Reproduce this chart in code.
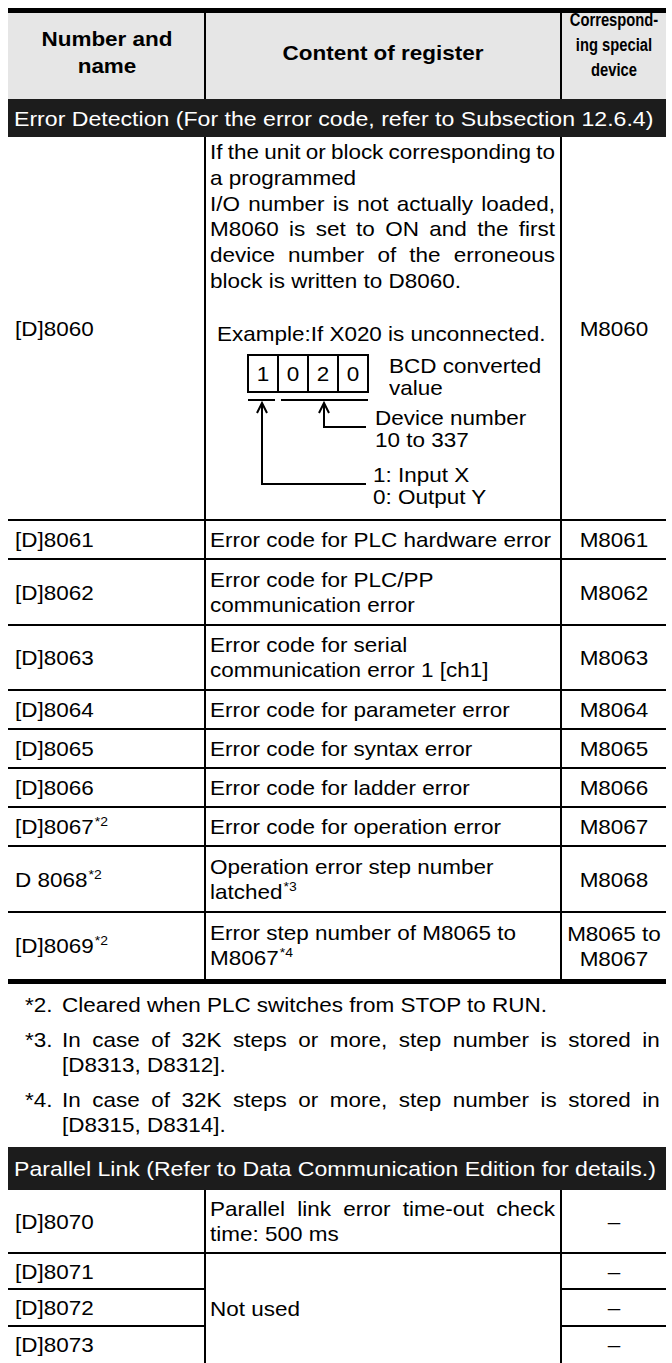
<!DOCTYPE html>
<html><head><meta charset="utf-8">
<script src="https://cdn.jsdelivr.net/npm/chart.js@4.4.1/dist/chart.umd.min.js"></script>
<style>
html,body{margin:0;padding:0;background:#fff;}
#page{position:relative;width:672px;height:1363px;overflow:hidden;font-family:"Liberation Sans",Arial,Helvetica,sans-serif;color:#000;}
.box{position:absolute;}
.t{position:absolute;white-space:nowrap;}
.j{position:absolute;display:flex;justify-content:space-between;white-space:nowrap;}
sup{font-size:13px;line-height:0;vertical-align:0;position:relative;top:-8px;margin-left:1px;}
svg{position:absolute;left:0;top:0;}
</style></head><body><div id="page"></div>
<script>
// ---------- data ----------
const headerTitles = [["Number and","name"],["Content of register"],["Correspond-","ing special","device"]];
const sectionTitles = ["Error Detection (For the error code, refer to Subsection 12.6.4)",
                       "Parallel Link (Refer to Data Communication Edition for details.)"];
const errorNames = ["[D]8060","[D]8061","[D]8062","[D]8063","[D]8064","[D]8065","[D]8066",
                    "[D]8067<sup>*2</sup>","D 8068<sup>*2</sup>","[D]8069<sup>*2</sup>"];
const errorContents = [
  ["If the unit or block corresponding to","a programmed","I/O number is not actually loaded,",
   "M8060 is set to ON and the first","device number of the erroneous","block is written to D8060."],
  ["Error code for PLC hardware error"],
  ["Error code for PLC/PP","communication error"],
  ["Error code for serial","communication error 1 [ch1]"],
  ["Error code for parameter error"],
  ["Error code for syntax error"],
  ["Error code for ladder error"],
  ["Error code for operation error"],
  ["Operation error step number","latched<sup>*3</sup>"],
  ["Error step number of M8065 to","M8067<sup>*4</sup>"]
];
const errorDevices = [["M8060"],["M8061"],["M8062"],["M8063"],["M8064"],["M8065"],["M8066"],["M8067"],["M8068"],["M8065 to","M8067"]];
const exampleText = "Example:If X020 is unconnected.";
const bcdDigits = ["1","0","2","0"];
const bcdLabel = ["BCD converted","value"];
const deviceLabel = ["Device number","10 to 337"];
const ioLabel = ["1: Input X","0: Output Y"];
const footnoteMarks = ["*2.","*3.","*4."];
const footnoteTexts = [
  ["Cleared when PLC switches from STOP to RUN."],
  ["In case of 32K steps or more, step number is stored in","[D8313, D8312]."],
  ["In case of 32K steps or more, step number is stored in","[D8315, D8314]."]
];
const parallelNames = ["[D]8070","[D]8071","[D]8072","[D]8073"];
const parallelContents = [["Parallel link error time-out check","time: 500 ms"],["Not used"]];
const parallelDevices = ["–","–","–","–"];

// ---------- layout / style ----------
const JUSTIFY = new Set(["If the unit or block corresponding to","I/O number is not actually loaded,",
  "M8060 is set to ON and the first","device number of the erroneous",
  "In case of 32K steps or more, step number is stored in","Parallel link error time-out check"]);
const P = document.getElementById('page');
const FS = 21, SX = 1.07, LW = 1.5;
const L = 8, R = 666, C1 = 205, C2 = 561;
const DEVX = (C2 + R) / 2;

function rect(x,y,w,h,c){const d=document.createElement('div');d.className='box';
  Object.assign(d.style,{left:x+'px',top:y+'px',width:w+'px',height:h+'px',background:c});P.appendChild(d);}
function txt(html,x,y,o={}){
  const fs=o.fs||FS, sx=o.sx||SX, lh=o.lh||Math.round(fs*1.2), n=o.n||1;
  const d=document.createElement('div');
  d.className=o.w?'j':'t';
  d.style.fontSize=fs+'px'; d.style.lineHeight=lh+'px'; d.style.top=(y-lh*n/2)+'px'; d.style.left=x+'px';
  if(o.bold) d.style.fontWeight='bold';
  if(o.color) d.style.color=o.color;
  if(o.w){
    d.style.width=(o.w/sx)+'px';
    html.split(' ').forEach(w=>{const s=document.createElement('span');s.innerHTML=w;d.appendChild(s);});
    d.style.transformOrigin='0 50%'; d.style.transform='scaleX('+sx+')';
  } else {
    d.innerHTML=html;
    if(o.center){d.style.textAlign='center';d.style.transformOrigin='50% 50%';d.style.transform='translateX(-50%) scaleX('+sx+')';}
    else {d.style.transformOrigin='0 50%';d.style.transform='scaleX('+sx+')';}
  }
  P.appendChild(d);
}
function lines(arr,x,yc,gap,o={}){
  arr.forEach((s,k)=>{const y=yc+(k-(arr.length-1)/2)*gap;
    if(o.w && JUSTIFY.has(s)) txt(s,x,y,Object.assign({},o)); else txt(s,x,y,Object.assign({},o,{w:0}));});
}
function block(arr,x,yc,gap,o={}){ txt(arr.join('<br>'),x,yc,Object.assign({},o,{lh:gap,n:arr.length})); }

// header
rect(L,8,R-L,4.7,'#000');
rect(L,12.7,R-L,86.3,'#e6e6e6');
rect(C1-0.75,12.7,LW,86.3,'#000');
rect(C2-0.75,12.7,LW,86.3,'#000');
block(headerTitles[0],(L+C1)/2,52,27,{bold:true,center:true});
block(headerTitles[1],(C1+C2)/2,52,27,{bold:true,center:true});
block(headerTitles[2],DEVX,45,25,{bold:true,center:true,fs:18,sx:0.82});

// section 1 bar
rect(L,99,R-L,38,'#1c1c1c');
txt(sectionTitles[0],14,118,{color:'#fff',sx:1.1});

// error rows
const ys=[137,520,559,625,690,729,768,807,846,912,979];
rect(C1-0.75,137,LW,979-137,'#000');
rect(C2-0.75,137,LW,979-137,'#000');
for(let i=1;i<ys.length-1;i++) rect(L,ys[i]-0.75,R-L,LW,'#000');
rect(L,979,R-L,5,'#000');
const CW = C2-6-(C1+5);
errorNames.forEach((n,i)=>{
  const yc=(ys[i]+ys[i+1])/2;
  txt(n,15,yc);
  block(errorDevices[i],DEVX,yc,25,{center:true});
  if(i===0){
    errorContents[0].forEach((s,k)=>{const y=152+k*25.8;
      txt(s,C1+5,y,JUSTIFY.has(s)?{w:CW,lh:24}:{lh:24});});
  } else {
    lines(errorContents[i],C1+5,yc,25,{w:CW,lh:24});
  }
});

// example diagram
txt(exampleText,217,333);
bcdDigits.forEach((d,k)=>txt(d,248+15+k*30,374,{center:true,lh:22}));
block(bcdLabel,389,377,22);
block(deviceLabel,375,429,22);
block(ioLabel,373,486,22);
const svgNS='http://www.w3.org/2000/svg';
const svg=document.createElementNS(svgNS,'svg');
svg.setAttribute('width','672');svg.setAttribute('height','1363');
svg.innerHTML=
 '<g fill="none" stroke="#000" stroke-width="2">'+
 '<rect x="248" y="355" width="120" height="37"/>'+
 '<line x1="278" y1="355" x2="278" y2="392"/><line x1="308" y1="355" x2="308" y2="392"/><line x1="338" y1="355" x2="338" y2="392"/>'+
 '<line x1="248" y1="400" x2="275" y2="400"/><line x1="281" y1="400" x2="368" y2="400"/>'+
 '<polyline points="262,403 262,484 366,484"/><polyline points="257,413 262,403 267,413"/>'+
 '<polyline points="324,403 324,427 366,427"/><polyline points="319,413 324,403 329,413"/>'+
 '</g>';
P.appendChild(svg);

// footnotes
const fy=[[1005],[1040,1065],[1100,1125]];
footnoteMarks.forEach((m,i)=>{
  txt(m,25,fy[i][0],{lh:24});
  footnoteTexts[i].forEach((s,k)=>txt(s,62,fy[i][k],JUSTIFY.has(s)?{w:660-62,lh:24}:{lh:24}));
});

// section 2
rect(L,1147,R-L,43,'#1c1c1c');
txt(sectionTitles[1],14,1168.5,{color:'#fff',sx:1.1});
const py=[1190,1253,1289,1326,1363];
rect(C1-0.75,1190,LW,1363-1190,'#000');
rect(C2-0.75,1190,LW,1363-1190,'#000');
rect(L,py[1]-0.75,R-L,LW,'#000');
for(let i=2;i<4;i++){rect(L,py[i]-0.75,C1-L,LW,'#000');rect(C2,py[i]-0.75,R-C2,LW,'#000');}
parallelNames.forEach((n,i)=>{
  const yc=(py[i]+py[i+1])/2;
  txt(n,15,yc);
  txt(parallelDevices[i],DEVX,yc,{center:true});
});
lines(parallelContents[0],C1+5,(py[0]+py[1])/2,25,{w:CW,lh:24});
txt(parallelContents[1][0],C1+5,(py[1]+py[4])/2);
</script></body></html>
